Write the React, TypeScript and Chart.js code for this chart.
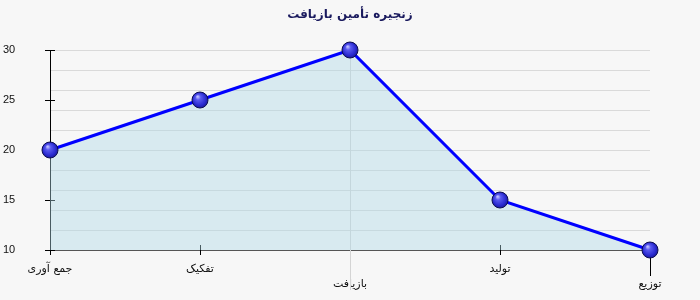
import React, { useEffect, useRef } from "react";
import { Chart, registerables } from "chart.js";

Chart.register(...registerables);

const titleText = "زنجیره تأمین بازیافت";
const categories = ["جمع آوری", "تفکیک", "بازیافت", "تولید", "توزیع"];
const values = [20, 25, 30, 15, 10];
const yMin = 10;
const yMax = 30;
const yLabelStep = 5;
const yGridStep = 2;

function makeSphere(): HTMLCanvasElement {
  const c = document.createElement("canvas");
  const s = 18;
  c.width = s;
  c.height = s;
  const ctx = c.getContext("2d")!;
  const g = ctx.createRadialGradient(6.5, 5.5, 0.5, 9, 9, 9);
  g.addColorStop(0, "#c0c0ff");
  g.addColorStop(0.25, "#5a5af0");
  g.addColorStop(0.7, "#2a2ad0");
  g.addColorStop(1, "#15158a");
  ctx.beginPath();
  ctx.arc(9, 9, 8, 0, Math.PI * 2);
  ctx.fillStyle = g;
  ctx.fill();
  ctx.lineWidth = 1;
  ctx.strokeStyle = "#0c0c50";
  ctx.stroke();
  return c;
}

const decor = {
  id: "decor",
  beforeDraw(chart: any) {
    const { ctx, width, height } = chart;
    ctx.save();
    ctx.fillStyle = "#f7f7f7";
    ctx.fillRect(0, 0, width, height);
    ctx.restore();
  },
  beforeDatasetsDraw(chart: any) {
    const { ctx, chartArea } = chart;
    const x = chart.scales.x;
    const y = chart.scales.y;
    ctx.save();
    ctx.strokeStyle = "#d4d4d4";
    ctx.lineWidth = 1;
    const cx = Math.round(x.getPixelForValue(2)) + 0.5;
    ctx.beginPath();
    ctx.moveTo(cx, chartArea.top);
    ctx.lineTo(cx, chartArea.bottom + 40);
    ctx.stroke();

    ctx.strokeStyle = "#000000";
    for (let v = yMin; v <= yMax; v += yLabelStep) {
      const py = Math.round(y.getPixelForValue(v)) + 0.5;
      ctx.beginPath();
      ctx.moveTo(chartArea.left - 5, py);
      ctx.lineTo(chartArea.left + 5, py);
      ctx.stroke();
    }
    const b = chartArea.bottom;
    categories.forEach((_, i) => {
      const px = Math.round(x.getPixelForValue(i)) + 0.5;
      ctx.beginPath();
      if (i === 0) {
        ctx.moveTo(px, b);
        ctx.lineTo(px, b + 5);
      } else if (i === categories.length - 1) {
        ctx.moveTo(px, b);
        ctx.lineTo(px, b + 26);
      } else if (i % 2 === 1) {
        ctx.moveTo(px, b - 5);
        ctx.lineTo(px, b + 5);
      }
      ctx.stroke();
    });
    ctx.restore();
  },
  afterDraw(chart: any) {
    const { ctx, chartArea } = chart;
    ctx.save();
    ctx.font = "bold 12px 'DejaVu Sans', sans-serif";
    ctx.fillStyle = "#1a1a5e";
    ctx.textAlign = "center";
    ctx.textBaseline = "middle";
    ctx.fillText(titleText, (chartArea.left + chartArea.right) / 2, 15);
    ctx.restore();
  },
};

export default function App() {
  const ref = useRef<HTMLCanvasElement | null>(null);
  useEffect(() => {
    document.body.style.margin = "0";
    const sphere = makeSphere();
    const chart = new Chart(ref.current!, {
      type: "line",
      data: {
        labels: categories,
        datasets: [
          {
            data: values,
            borderColor: "#0000ff",
            borderWidth: 3,
            backgroundColor: "rgba(173,216,230,0.42)",
            fill: "start",
            tension: 0,
            pointStyle: sphere as any,
            pointRadius: 8,
            pointHoverRadius: 8,
            clip: false as any,
          },
        ],
      },
      options: {
        responsive: false,
        animation: false,
        events: [],
        layout: { padding: { top: 50, right: 50, left: 3, bottom: 0 } },
        plugins: { legend: { display: false }, tooltip: { enabled: false }, title: { display: false } },
        scales: {
          x: {
            offset: false,
            afterFit: (s: any) => {
              s.height = 50;
            },
            grid: { display: false, drawTicks: false },
            border: { display: true, color: "#555555", width: 1 },
            ticks: {
              autoSkip: false,
              maxRotation: 0,
              padding: 11,
              color: "#111111",
              font: { family: "'DejaVu Sans', sans-serif", size: 11, lineHeight: 1.4 },
              callback: (_v: any, i: number) => (i % 2 === 1 || i === 0 ? categories[i] : ["", categories[i]]),
            },
          },
          y: {
            min: yMin,
            max: yMax,
            afterFit: (s: any) => {
              s.width = 47;
            },
            grid: {
              drawTicks: false,
              color: (c: any) => (c.tick && (c.tick.value - yMin) % yGridStep === 0 ? "#dadada" : "rgba(0,0,0,0)"),
            },
            border: { display: true, color: "#000000", width: 1 },
            ticks: {
              stepSize: 1,
              autoSkip: false,
              crossAlign: "far",
              padding: 0,
              color: "#111111",
              font: { family: "'Liberation Sans', sans-serif", size: 11 },
              callback: (v: any) => (Number(v) % yLabelStep === 0 ? String(v) : ""),
            },
          },
        },
      },
      plugins: [decor],
    });
    return () => chart.destroy();
  }, []);
  return <canvas ref={ref} width={700} height={300} style={{ display: "block" }} />;
}
